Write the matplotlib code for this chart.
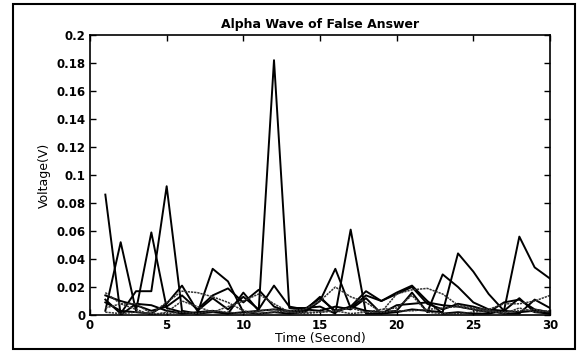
import matplotlib
matplotlib.use('Agg')
import matplotlib.pyplot as plt
from matplotlib.patches import Rectangle
from matplotlib.ticker import FuncFormatter
import numpy as np

plt.rcParams['font.family'] = ['DejaVu Sans']

# time axis (seconds)
t = np.arange(1, 31)

# alpha wave voltage (V) of each trial
s1 = [0.086, 0.000, 0.008, 0.007, 0.003, 0.001, 0.002, 0.003, 0.001, 0.002,
      0.003, 0.182, 0.005, 0.005, 0.006, 0.001, 0.061, 0.001, 0.001, 0.002,
      0.004, 0.003, 0.002, 0.044, 0.031, 0.015, 0.003, 0.056, 0.034, 0.026]
s2 = [0.003, 0.052, 0.003, 0.059, 0.005, 0.002, 0.001, 0.002, 0.001, 0.016,
      0.003, 0.004, 0.003, 0.004, 0.012, 0.003, 0.006, 0.003, 0.002, 0.003,
      0.016, 0.002, 0.029, 0.020, 0.009, 0.004, 0.003, 0.012, 0.002, 0.001]
s3 = [0.011, 0.001, 0.017, 0.017, 0.092, 0.003, 0.001, 0.033, 0.024, 0.002,
      0.001, 0.002, 0.001, 0.002, 0.010, 0.033, 0.005, 0.014, 0.010, 0.016,
      0.021, 0.010, 0.001, 0.002, 0.001, 0.001, 0.003, 0.002, 0.003, 0.001]
s4 = [0.016, 0.008, 0.008, 0.001, 0.009, 0.017, 0.016, 0.013, 0.009, 0.003,
      0.001, 0.002, 0.003, 0.004, 0.010, 0.020, 0.013, 0.009, 0.002, 0.015,
      0.018, 0.019, 0.015, 0.007, 0.005, 0.004, 0.008, 0.008, 0.010, 0.014]
s5 = [0.014, 0.010, 0.007, 0.003, 0.006, 0.014, 0.004, 0.014, 0.019, 0.009,
      0.018, 0.006, 0.002, 0.003, 0.013, 0.002, 0.006, 0.017, 0.010, 0.015,
      0.020, 0.008, 0.004, 0.008, 0.006, 0.003, 0.001, 0.001, 0.011, 0.005]
s6 = [0.009, 0.003, 0.002, 0.001, 0.008, 0.021, 0.003, 0.012, 0.004, 0.013,
      0.004, 0.021, 0.006, 0.004, 0.003, 0.006, 0.004, 0.012, 0.001, 0.007,
      0.008, 0.009, 0.007, 0.006, 0.004, 0.002, 0.009, 0.011, 0.004, 0.002]
s7 = [0.005, 0.008, 0.004, 0.000, 0.002, 0.010, 0.006, 0.002, 0.006, 0.010,
      0.015, 0.008, 0.002, 0.001, 0.002, 0.003, 0.005, 0.002, 0.004, 0.005,
      0.014, 0.002, 0.001, 0.001, 0.002, 0.003, 0.001, 0.005, 0.002, 0.003]
s8 = [0.002, 0.001, 0.002, 0.001, 0.001, 0.002, 0.001, 0.003, 0.002, 0.001,
      0.003, 0.004, 0.002, 0.002, 0.002, 0.003, 0.001, 0.002, 0.002, 0.003,
      0.003, 0.004, 0.005, 0.006, 0.004, 0.003, 0.002, 0.003, 0.004, 0.002]

xticks = [0, 5, 10, 15, 20, 25, 30]
yticks = np.arange(0, 0.2001, 0.02)

fig = plt.figure(figsize=(5.84, 3.52), dpi=100)
ax = fig.add_axes([90 / 584, 1 - 315 / 352, 460 / 584, 280 / 352])

# solid traces
for s in [s1, s2, s3, s5, s6]:
    ax.plot(t, s, color='black', lw=1.4)
# fainter, dotted-looking traces
for s in [s4, s7, s8]:
    ax.plot(t, s, color='#333333', lw=1.1, ls=(0, (1.5, 0.6)))

ax.set_xlim(0, 30)
ax.set_ylim(0, 0.2)
ax.set_xticks(xticks)
ax.set_yticks(yticks)
ax.yaxis.set_major_formatter(FuncFormatter(lambda v, p: '%g' % round(v, 2)))
ax.tick_params(direction='in', length=4, width=1, top=True, right=True,
               labelsize=8.5, pad=3)
for lab in ax.get_xticklabels() + ax.get_yticklabels():
    lab.set_fontweight('bold')
for sp in ax.spines.values():
    sp.set_linewidth(1.2)

ax.set_title('Alpha Wave of False Answer', fontsize=9, fontweight='bold', pad=5)
ax.set_xlabel('Time (Second)', fontsize=9, labelpad=0)
ax.set_ylabel('Voltage(V)', fontsize=9, labelpad=4)

# outer frame of the scanned figure
fig.patches.append(Rectangle((13 / 584, 3 / 352), 562 / 584, 345 / 352,
                             transform=fig.transFigure, fill=False,
                             edgecolor='black', lw=1.5))

fig.savefig('out.png', dpi=100)
